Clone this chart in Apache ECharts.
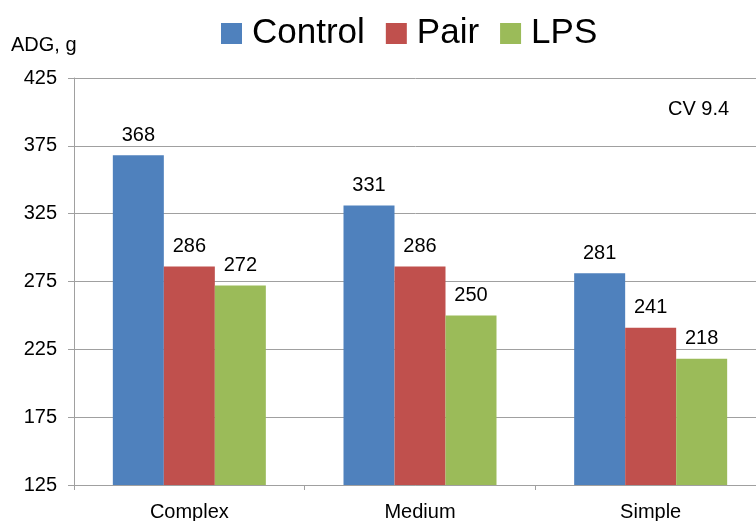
<!DOCTYPE html>
<html>
<head>
<meta charset="utf-8">
<script src="https://cdn.jsdelivr.net/npm/echarts@6/dist/echarts.min.js"></script>
<style>
html,body{margin:0;padding:0;background:#fff;}
#chart{width:756px;height:521px;}
</style>
</head>
<body>
<div id="chart"></div>
<script>
const categories = ['Complex', 'Medium', 'Simple'];
const control = [368, 331, 281];
const pair = [286, 286, 241];
const lps = [272, 250, 218];
const seriesNames = ['Control', 'Pair', 'LPS'];
const colors = ['#4F81BD', '#C0504D', '#9BBB59'];
const yTicks = { min: 125, max: 425, interval: 50 };
const yAxisTitle = 'ADG, g';
const cvNote = 'CV 9.4';

const FONT = '"Liberation Sans", Arial, Helvetica, sans-serif';
const chart = echarts.init(document.getElementById('chart'), null, { renderer: 'canvas' });

function barSeries(name, data, color) {
  return {
    name: name,
    type: 'bar',
    data: data,
    barWidth: 51,
    barGap: '0%',
    itemStyle: { color: color },
    label: {
      show: true,
      position: 'top',
      distance: 10,
      color: '#000',
      fontSize: 20,
      fontFamily: FONT
    }
  };
}

chart.setOption({
  animation: false,
  backgroundColor: '#fff',
  textStyle: { fontFamily: FONT },
  legend: {
    data: seriesNames,
    left: 221,
    top: 16,
    padding: 0,
    itemWidth: 21,
    itemHeight: 21,
    itemGap: 21,
    icon: 'rect',
    textStyle: { fontSize: 35, color: '#000', fontFamily: FONT, padding: [0, 0, 0, 5] }
  },
  grid: { left: 74, top: 78, width: 692, bottom: 36, containLabel: false, outerBoundsMode: 'none' },
  xAxis: {
    type: 'category',
    data: categories,
    axisLine: { lineStyle: { color: '#a0a0a0', width: 1 } },
    axisTick: { show: true, length: 5, lineStyle: { color: '#a0a0a0' } },
    axisLabel: { color: '#000', fontSize: 20, margin: 17, fontFamily: FONT }
  },
  yAxis: {
    type: 'value',
    min: yTicks.min,
    max: yTicks.max,
    interval: yTicks.interval,
    axisLine: { show: true, lineStyle: { color: '#a0a0a0', width: 1 } },
    axisTick: { show: true, length: 6, lineStyle: { color: '#a0a0a0' } },
    axisLabel: { color: '#000', fontSize: 20, margin: 17, fontFamily: FONT },
    splitLine: { show: true, lineStyle: { color: '#a0a0a0', width: 1 } }
  },
  graphic: [
    {
      type: 'text',
      left: 11,
      top: 35,
      style: { text: yAxisTitle, fontSize: 20, fill: '#000', fontFamily: FONT }
    },
    {
      type: 'text',
      left: 668,
      top: 99,
      style: { text: cvNote, fontSize: 20, fill: '#000', fontFamily: FONT }
    }
  ],
  series: [
    barSeries(seriesNames[0], control, colors[0]),
    barSeries(seriesNames[1], pair, colors[1]),
    barSeries(seriesNames[2], lps, colors[2])
  ]
});
</script>
</body>
</html>
